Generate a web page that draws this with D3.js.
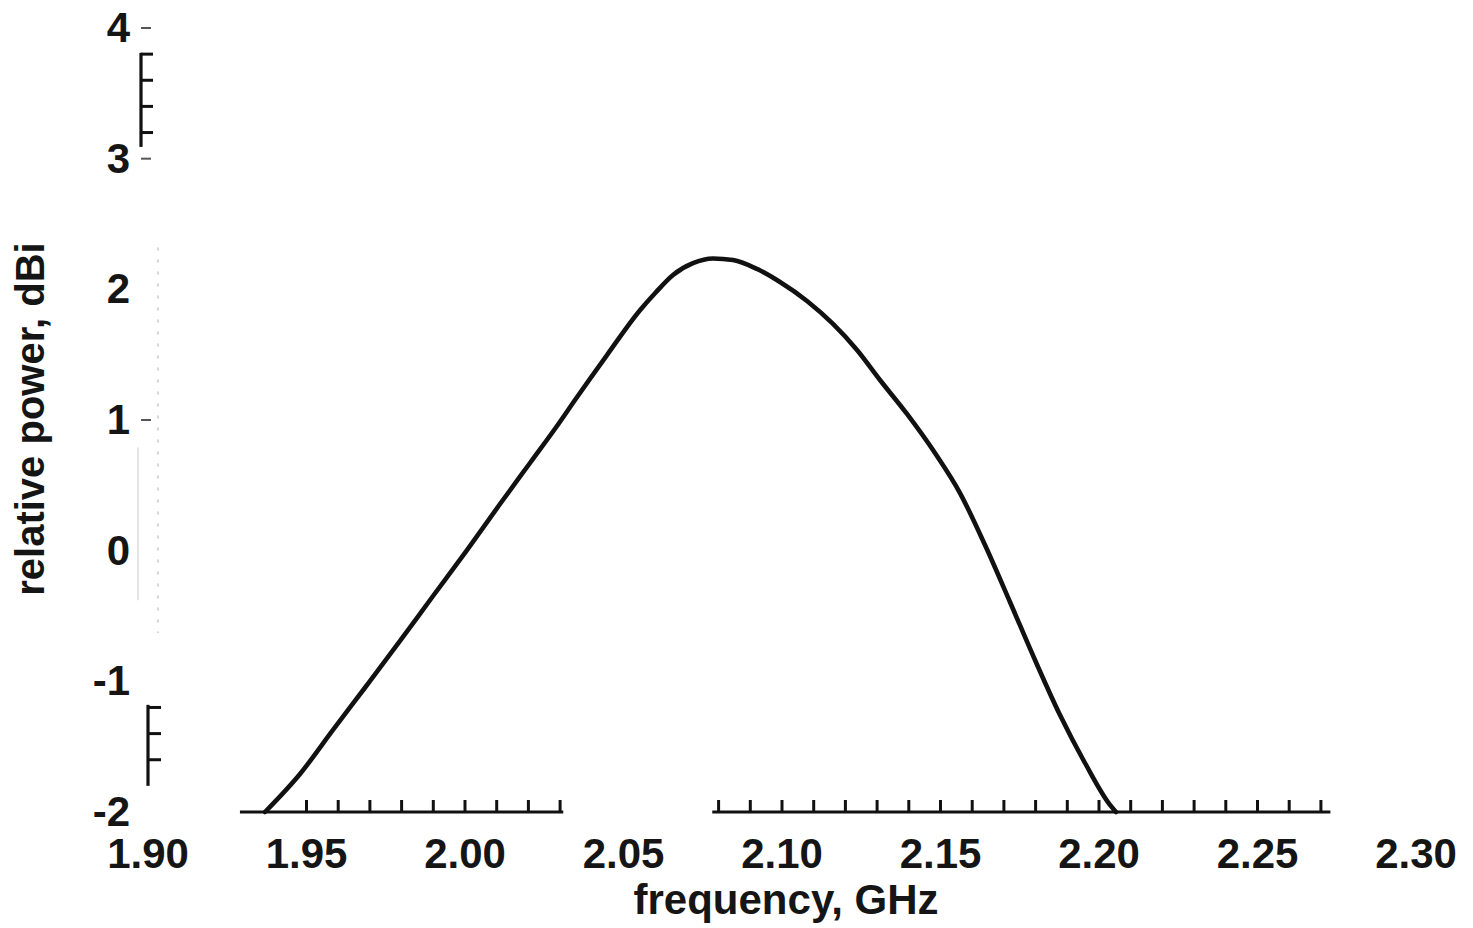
<!DOCTYPE html>
<html>
<head>
<meta charset="utf-8">
<script src="https://cdn.jsdelivr.net/npm/d3@7"></script>
<style>
  html, body { margin: 0; padding: 0; background: #fff; }
  svg { display: block; }
  text { font-family: "Liberation Sans", Arial, Helvetica, sans-serif; font-weight: bold; fill: #151515; }
</style>
</head>
<body>
<svg id="chart" width="1473" height="928"></svg>
<script>
// ---- data ----
const freqGHz = [1.93691, 1.94795, 1.95836, 1.96909, 1.97950, 1.98991, 2.00063, 2.01104, 2.02050, 2.02902,
                 2.03470, 2.04479, 2.05520, 2.05994, 2.06562, 2.07192, 2.07823, 2.08454, 2.09211, 2.09937,
                 2.10789, 2.11609, 2.12366, 2.13091, 2.13943, 2.14826, 2.15615, 2.16404, 2.17192, 2.17981,
                 2.18770, 2.19558, 2.20347, 2.20536];
const powerDBi = [-2.000, -1.709, -1.372, -1.028, -0.691, -0.347, 0.005, 0.357, 0.671, 0.954,
                  1.153, 1.497, 1.840, 1.970, 2.110, 2.200, 2.236, 2.224, 2.156, 2.056,
                  1.911, 1.735, 1.536, 1.306, 1.046, 0.747, 0.441, 0.043, -0.393, -0.837,
                  -1.258, -1.625, -1.946, -2.000];

const xTickValues = [1.90, 1.95, 2.00, 2.05, 2.10, 2.15, 2.20, 2.25, 2.30];
const xTickLabels = ["1.90", "1.95", "2.00", "2.05", "2.10", "2.15", "2.20", "2.25", "2.30"];
const yTickValues = [4, 3, 2, 1, 0, -1, -2];
const yTickLabels = ["4", "3", "2", "1", "0", "-1", "-2"];

// fragments of the printed axes that survive in the scan
const xAxisLeftSpan = [1.929, 2.031];
const xAxisLeftMinor = [1.95, 1.96, 1.97, 1.98, 1.99, 2.00, 2.01, 2.02, 2.03];
const xAxisRightSpan = [2.078, 2.273];
const xAxisRightMinor = [2.08, 2.09, 2.10, 2.11, 2.12, 2.13, 2.14, 2.15, 2.16, 2.17,
                         2.18, 2.19, 2.20, 2.21, 2.22, 2.23, 2.24, 2.25, 2.26, 2.27];
const yAxisTopSpan = [3.09, 3.81];
const yAxisTopMinor = [3.2, 3.4, 3.6, 3.8];
const yAxisBottomSpan = [-1.80, -1.18];
const yAxisBottomMinor = [-1.2, -1.4, -1.6];
const yMajorMarks = [4, 3, 1];
const yFaintDotted = [-0.63, 2.32];
const yFaintSolid = [-0.38, 0.79];

const xLabel = "frequency, GHz";
const yLabel = "relative power, dBi";

// ---- scales ----
const svg = d3.select("#chart");
const x = d3.scaleLinear().domain([1.90, 2.30]).range([148, 1416]);
const y = d3.scaleLinear().domain([-2, 4]).range([812, 28]);

const ink = "#111";

// ---- x axis fragments ----
const xAxisY = y(-2);
function xFragment(span, minor) {
  const g = svg.append("g");
  g.append("line")
    .attr("x1", x(span[0])).attr("x2", x(span[1]))
    .attr("y1", xAxisY).attr("y2", xAxisY)
    .attr("stroke", ink).attr("stroke-width", 3.2);
  g.selectAll("line.t").data(minor).join("line").attr("class", "t")
    .attr("x1", d => x(d)).attr("x2", d => x(d))
    .attr("y1", xAxisY).attr("y2", xAxisY - 12)
    .attr("stroke", ink).attr("stroke-width", 3);
}
xFragment(xAxisLeftSpan, xAxisLeftMinor);
xFragment(xAxisRightSpan, xAxisRightMinor);

// ---- y axis fragments ----
function yFragment(span, minor, ax, len) {
  const g = svg.append("g");
  g.append("line")
    .attr("x1", ax).attr("x2", ax)
    .attr("y1", y(span[0])).attr("y2", y(span[1]))
    .attr("stroke", ink).attr("stroke-width", 3.2);
  g.selectAll("line.t").data(minor).join("line").attr("class", "t")
    .attr("x1", ax).attr("x2", ax + len)
    .attr("y1", d => y(d)).attr("y2", d => y(d))
    .attr("stroke", ink).attr("stroke-width", 3);
}
yFragment(yAxisTopSpan, yAxisTopMinor, 141, 12);
yFragment(yAxisBottomSpan, yAxisBottomMinor, 148, 13);

svg.append("g").selectAll("line").data(yMajorMarks).join("line")
  .attr("x1", 141).attr("x2", 151)
  .attr("y1", d => y(d)).attr("y2", d => y(d))
  .attr("stroke", "#555").attr("stroke-width", 2);

svg.append("line")
  .attr("x1", 158).attr("x2", 158)
  .attr("y1", y(yFaintDotted[1])).attr("y2", y(yFaintDotted[0]))
  .attr("stroke", "#bbb").attr("stroke-width", 1.2).attr("stroke-dasharray", "3,9");
svg.append("line")
  .attr("x1", 138).attr("x2", 138)
  .attr("y1", y(yFaintSolid[1])).attr("y2", y(yFaintSolid[0]))
  .attr("stroke", "#ddd").attr("stroke-width", 1.5);

// ---- tick labels ----
svg.append("g").selectAll("text").data(xTickValues).join("text")
  .attr("x", d => x(d))
  .attr("y", 868)
  .attr("text-anchor", "middle")
  .attr("font-size", 42)
  .text((d, i) => xTickLabels[i]);

svg.append("g").selectAll("text").data(yTickValues).join("text")
  .attr("x", 130)
  .attr("y", d => y(d) + 14)
  .attr("text-anchor", "end")
  .attr("font-size", 42)
  .text((d, i) => yTickLabels[i]);

// ---- axis titles ----
svg.append("text")
  .attr("x", 786).attr("y", 914)
  .attr("text-anchor", "middle")
  .attr("font-size", 42)
  .text(xLabel);

svg.append("text")
  .attr("transform", "translate(44,419) rotate(-90)")
  .attr("text-anchor", "middle")
  .attr("font-size", 40)
  .text(yLabel);

// ---- curve ----
const pts = freqGHz.map((f, i) => [f, powerDBi[i]]);
const line = d3.line()
  .x(d => x(d[0]))
  .y(d => y(d[1]))
  .curve(d3.curveMonotoneX);
svg.append("path")
  .datum(pts)
  .attr("d", line)
  .attr("fill", "none")
  .attr("stroke", ink)
  .attr("stroke-width", 4.6)
  .attr("stroke-linejoin", "round")
  .attr("stroke-linecap", "round");
</script>
</body>
</html>
